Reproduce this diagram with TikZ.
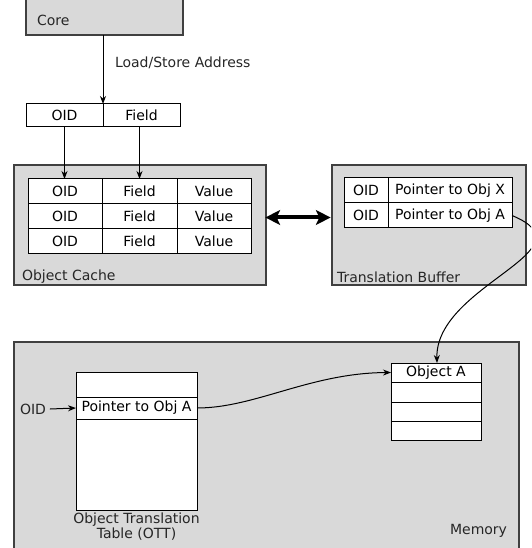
\documentclass[tikz,border=0pt]{standalone}
\usepackage{fontspec}
\setmainfont{DejaVu Sans}
\usetikzlibrary{arrows.meta}
\definecolor{panel}{HTML}{D9D9D9}
\definecolor{panelline}{HTML}{404040}
% \cellbox[style]{name}{x1}{y1}{x2}{y2}{text}: a box given by its corners (px)
\newcommand\cellbox[7][]{%
  \node[#1, minimum width={(#5-#3)*0.75pt}, minimum height={(#6-#4)*0.75pt}]
    (#2) at ({(#3+#5)/2},{(#4+#6)/2}) {#7};}
\begin{document}
\begin{tikzpicture}[x=0.75pt, y=-0.75pt,
    font=\fontsize{10.5}{11.4}\selectfont,
    every node/.style={inner sep=0pt, outer sep=0pt},
    panelbox/.style={draw=panelline, fill=panel, line width=0.8pt},
    cell/.style={draw=black, fill=white, line width=0.75pt},
    txt/.style={text=black!85},
    arr/.style={line width=0.75pt, -{Stealth[length=6pt, width=4.5pt]}},
    wire/.style={line width=0.75pt, -{Stealth[length=6pt, width=4.5pt]}}]
  \clip (0,0) rectangle (531,548);

  % core
  \cellbox[panelbox]{core}{26}{-5}{183}{35}{}
  \node[txt, anchor=west] (coretxt) at (37,20) {Core};

  % load/store address
  \cellbox[cell]{addrOID}{26}{104}{103}{127}{OID}
  \cellbox[cell]{addrField}{103}{104}{180}{127}{Field}
  \draw[arr] (addrOID.north east |- core.south) -- (addrOID.north east);
  \node[txt, anchor=west] (addrlbl) at (115,63) {Load/Store Address};

  % object cache
  \cellbox[panelbox]{cache}{14}{165}{266}{285}{}
  \node[txt, anchor=west] (cachelbl) at (22,277) {Object Cache};
  \cellbox[cell]{c11}{28}{179}{102}{204}{OID}
  \cellbox[cell]{c12}{102}{179}{177}{204}{Field}
  \cellbox[cell]{c13}{177}{179}{251}{204}{Value}
  \cellbox[cell]{c21}{28}{204}{102}{229}{OID}
  \cellbox[cell]{c22}{102}{204}{177}{229}{Field}
  \cellbox[cell]{c23}{177}{204}{251}{229}{Value}
  \cellbox[cell]{c31}{28}{229}{102}{254}{OID}
  \cellbox[cell]{c32}{102}{229}{177}{254}{Field}
  \cellbox[cell]{c33}{177}{229}{251}{254}{Value}
  \draw[arr] (addrOID.south) -- (addrOID.south |- c11.north);
  \draw[arr] (c12.north |- addrField.south) -- (c12.north);

  % translation buffer
  \cellbox[panelbox]{tb}{332}{165}{526}{285}{}
  \node[txt, anchor=west] (tblbl) at (337,277) {Translation Buffer};
  \cellbox[cell]{t11}{344}{178}{388}{203}{OID}
  \cellbox[cell]{t12}{388}{178}{512}{203}{Pointer to Obj X}
  \cellbox[cell]{t21}{344}{203}{388}{228}{OID}
  \cellbox[cell]{t22}{388}{203}{512}{228}{Pointer to Obj A}

  % cache <-> translation buffer
  \draw[line width=3pt, {Stealth[length=11pt, width=11pt, inset=2.5pt]}-{Stealth[length=11pt, width=11pt, inset=2.5pt]}]
    ([xshift=-0.5pt, yshift=-0.75pt]cache.east |- c21.center) -- ([xshift=-1pt, yshift=-0.75pt]tb.west |- c21.center);

  % memory
  \cellbox[panelbox]{mem}{14}{342}{519}{560}{}
  \node[txt, anchor=east] (memlbl) at (507,531) {Memory};

  % object translation table
  \cellbox[cell]{ott1}{76}{372}{197}{397}{}
  \cellbox[cell]{ott2}{76}{397}{197}{419}{Pointer to Obj A}
  \cellbox[cell]{ott3}{76}{419}{197}{510}{}
  \node[txt, align=center, anchor=north] (ottlbl) at ([yshift=-2pt]ott3.south)
    {Object Translation\\Table (OTT)};
  \node[txt, anchor=west] (oidin) at (20,409) {OID};
  \draw[arr] ([xshift=3pt]oidin.east) -- (ott2.west);

  % object A
  \cellbox[cell]{oa1}{391}{363}{481}{382}{Object A}
  \cellbox[cell]{oa2}{391}{382}{481}{402}{}
  \cellbox[cell]{oa3}{391}{402}{481}{421}{}
  \cellbox[cell]{oa4}{391}{421}{481}{440}{}

  % pointer connectors
  \draw[wire] (ott2.east) .. controls (255,408) and (310,373) .. (oa1.west);
  \draw[wire] (t22.east) .. controls (595,250) and (435,285) .. (oa1.north -| 437,0);
\end{tikzpicture}
\end{document}
